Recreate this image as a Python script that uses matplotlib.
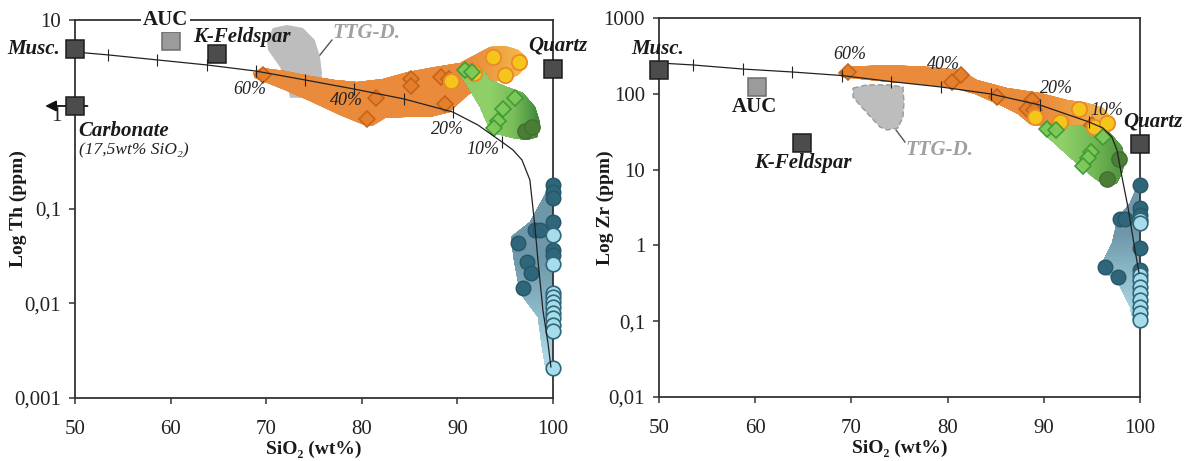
import numpy as np
import matplotlib
matplotlib.use("Agg")
import matplotlib.pyplot as plt
from matplotlib.patches import Polygon
from matplotlib.colors import LinearSegmentedColormap

SERIF = ['Liberation Serif', 'DejaVu Serif']
plt.rcParams['font.family'] = SERIF

# ---------------- data: Th panel (left) ----------------
end_names = ['Musc.', 'AUC', 'K-Feldspar', 'Quartz']
th_end_x = [50, 60.0, 64.9, 100]
th_end_y = [4.9, 6.0, 4.36, 3.03]
carb_x, carb_y = 50, 1.23

th_mix_x = [50.0, 53.45, 58.58, 63.81, 68.93, 74.06, 79.18, 84.41, 89.54, 92.15, 94.67,
            95.82, 96.76, 97.59, 98.12, 98.43, 98.95, 99.48, 99.79]
th_mix_y = [4.58, 4.27, 3.78, 3.34, 2.88, 2.32, 1.86, 1.46, 1.06, 0.774, 0.512,
            0.421, 0.330, 0.203, 0.0646, 0.0289, 0.00853, 0.00382, 0.00213]
th_tick_x = [53.45, 58.58, 63.81, 68.93, 74.06, 79.18, 84.41, 89.54, 94.67]
th_tick_y = [4.27, 3.78, 3.34, 2.88, 2.32, 1.86, 1.46, 1.06, 0.512]
pct_labels = ['60%', '40%', '20%', '10%']
th_pct_x = [68.31, 78.45, 89.02, 92.68]
th_pct_y = [1.82, 1.39, 0.686, 0.421]

th_orange_x = [68.62, 69.56, 71.97, 74.58, 77.20, 79.50, 82.22, 84.83, 87.66, 90.27, 91.84, 93.41,
               94.98, 96.34, 97.18, 97.18, 96.34, 94.98, 93.41, 92.15, 91.11, 90.06, 89.23, 87.13,
               84.52, 82.43, 81.07, 80.02, 77.72, 74.58, 71.97, 69.87, 68.83]
th_orange_y = [2.75, 3.10, 2.88, 2.55, 2.32, 2.21, 2.38, 2.82, 3.18, 3.51, 4.26, 5.18,
               5.31, 4.82, 4.06, 3.26, 2.62, 2.32, 2.21, 1.91, 1.61, 1.29, 1.06, 0.942,
               0.942, 0.919, 0.756, 0.793, 0.989, 1.39, 1.82, 2.21, 2.43]
th_green_x = [90.27, 92.36, 93.41, 95.19, 96.86, 98.12, 98.64, 98.33, 97.28, 95.82, 93.72, 93.10,
              92.36, 91.32, 90.48]
th_green_y = [3.18, 3.18, 2.32, 1.95, 1.69, 1.20, 0.813, 0.578, 0.537, 0.564, 0.637, 0.813,
              1.20, 1.82, 2.49]
th_ttg_x = [70.08, 70.71, 72.18, 73.85, 75.10, 75.63, 75.84, 75.63, 74.06, 72.49, 72.28, 71.44, 70.19]
th_ttg_y = [6.13, 8.23, 8.85, 8.23, 6.13, 4.06, 2.75, 1.82, 1.50, 1.50, 1.95, 3.18, 4.82]
th_blue_x = [100, 97.59, 95.60, 95.90, 96.60, 98.43, 98.85, 99.16, 99.90, 100]
th_blue_y = [0.203, 0.0728, 0.0506, 0.0288, 0.0129, 0.0072, 0.00347, 0.00223, 0.00184, 0.00184]

th_od_x = [69.67, 81.49, 80.54, 85.15, 85.15, 88.28, 89.12, 88.70]   # orange diamonds
th_od_y = [2.62, 1.50, 0.895, 2.38, 2.00, 2.49, 2.38, 1.29]
th_yc_x = [93.72, 96.44, 94.98, 91.74, 89.33]                          # yellow circles
th_yc_y = [4.06, 3.59, 2.62, 2.75, 2.26]
th_gd_x = [90.80, 91.53, 96.03, 94.77, 94.25, 93.83]                   # green diamonds
th_gd_y = [2.96, 2.82, 1.50, 1.14, 0.853, 0.72]
th_dg_x = [97.07, 97.80]                                               # dark green circles
th_dg_y = [0.668, 0.738]
th_db_x = [100, 100, 100, 100, 100, 100, 98.12, 98.64, 96.34, 97.28, 97.70, 96.86]  # dark blue
th_db_y = [0.179, 0.151, 0.131, 0.0728, 0.0368, 0.0326, 0.060, 0.060, 0.0436, 0.0275, 0.021, 0.0146]
th_lb_x = [100] * 11                                                   # light blue
th_lb_y = [0.0531, 0.0262, 0.0129, 0.01172, 0.01037, 0.00918, 0.00793, 0.00703, 0.00592,
           0.00511, 0.00207]

# ---------------- data: Zr panel (right) ----------------
zr_end_x = [50, 60.2, 64.9, 100]
zr_end_y = [206, 123, 22.4, 21.8]
zr_mix_x = [50.0, 53.53, 58.73, 63.83, 69.02, 74.12, 79.31, 84.51, 89.60, 94.70, 96.15,
            97.08, 97.61, 98.13, 98.75, 99.48, 99.90]
zr_mix_y = [255, 240, 212, 194, 174, 145, 123, 99.4, 71.1, 42.5, 35.4,
            26.9, 18.1, 7.98, 3.21, 0.869, 0.433]
zr_tick_x = [53.53, 58.73, 63.83, 69.02, 74.12, 79.31, 84.51, 89.60, 94.70]
zr_tick_y = [240, 212, 194, 174, 145, 123, 99.4, 71.1, 42.5]
zr_pct_x = [69.85, 79.52, 91.37, 96.57]
zr_pct_y = [325, 240, 116, 61.1]

zr_orange_x = [68.61, 69.54, 73.70, 78.17, 81.29, 83.06, 86.17, 89.61, 92.41, 94.49, 96.15, 97.19,
               97.19, 96.15, 94.49, 91.89, 90.12, 88.57, 87.32, 85.45, 82.85, 80.25, 77.13, 74.01,
               70.89, 69.02]
zr_orange_y = [188, 226, 240, 226, 206, 152, 119, 103, 82.8, 75.6, 65.0, 45.1,
               35.4, 31.3, 32.3, 35.4, 37.6, 40.0, 54.2, 71.1, 99.4, 123, 135, 143,
               157, 167]
zr_green_x = [89.81, 91.68, 94.49, 96.88, 98.13, 98.44, 98.13, 97.61, 96.57, 95.11, 93.04, 90.96, 89.92]
zr_green_y = [36.5, 38.7, 37.6, 30.4, 19.9, 13.4, 9.02, 6.65, 5.89, 7.98, 13.4, 23.1, 30.4]
zr_ttg_x = [70.17, 71.62, 74.01, 75.36, 75.47, 75.36, 74.84, 73.70, 72.97, 71.62, 70.69, 70.17]
zr_ttg_y = [119, 131, 131, 123, 75.6, 49.4, 35.4, 33.3, 36.5, 55.8, 75.6, 90.8]
zr_blue_x = [100, 98.96, 97.71, 97.09, 96.05, 95.84, 97.61, 98.96, 99.27, 100]
zr_blue_y = [7.3, 3.62, 2.30, 1.08, 0.586, 0.473, 0.35, 0.154, 0.104, 0.0838]

zr_od_x = [69.65, 80.46, 81.39, 85.13, 88.77, 88.25, 88.98, 95.01]
zr_od_y = [194, 143, 177, 90.8, 82.8, 63.0, 61.1, 38.7]
zr_yc_x = [89.09, 91.68, 93.66, 95.22, 96.57]
zr_yc_y = [49.4, 42.5, 63.0, 36.5, 41.2]
zr_gd_x = [90.33, 91.27, 96.15, 94.91, 94.59, 94.07]
zr_gd_y = [34.4, 33.3, 26.9, 17.1, 14.2, 11.1]
zr_dg_x = [97.82, 96.59]
zr_dg_y = [13.8, 7.5]
zr_db_x = [100, 100, 100, 100, 100, 97.92, 98.44, 96.36, 97.71]
zr_db_y = [6.27, 3.11, 2.52, 0.925, 0.473, 2.23, 2.23, 0.519, 0.383]
zr_lb_x = [100] * 10
zr_lb_y = [2.16, 1.95, 0.406, 0.35, 0.283, 0.235, 0.19, 0.154, 0.128, 0.104]

# ---------------- styles ----------------
C_ORANGE = '#ea8b3c'
C_YORANGE = '#f3b64c'
C_GREEN_L = '#8fcf68'
C_GREEN_D = '#3f8a3c'
C_BLUE_D = '#6e98aa'
C_BLUE_L = '#a9d6e2'
C_GRAY = '#bdbdbd'
TXT = '#1a1a1a'


def grad_patch(ax, xs, ys, colors, t0, t1, along='x', alpha=1.0, z=1):
    poly = Polygon(np.column_stack([xs, ys]), closed=True, fc='none', ec='none', zorder=z)
    ax.add_patch(poly)
    gx = np.linspace(min(xs), max(xs), 150)
    gy = np.geomspace(min(ys), max(ys), 150)
    GX, GY = np.meshgrid(gx, gy)
    if along == 'x':
        v = GX
        a, b = t0, t1
    else:
        v = np.log10(GY)
        a, b = np.log10(t0), np.log10(t1)
    T = np.clip((v - a) / (b - a), 0, 1)
    cmap = LinearSegmentedColormap.from_list('g', colors)
    m = ax.pcolormesh(GX, GY, T, cmap=cmap, vmin=0, vmax=1, shading='gouraud',
                      alpha=alpha, zorder=z)
    m.set_clip_path(poly)


def style_axes(ax, ylim, yticks, ylabels, ylabel, label_x):
    ax.set_yscale('log')
    ax.set_xlim(50, 100)
    ax.set_ylim(*ylim)
    ax.set_xticks([50, 60, 70, 80, 90, 100])
    ax.set_xticklabels(['50', '60', '70', '80', '90', '100'])
    ax.set_yticks(yticks)
    ax.set_yticklabels(ylabels)
    ax.minorticks_off()
    ax.tick_params(axis='both', direction='out', length=4, width=1.1, color='#333333',
                   labelsize=15, labelcolor='#222222', pad=6)
    ax.tick_params(axis='x', pad=12)
    for s in ax.spines.values():
        s.set_color('#333333')
        s.set_linewidth(1.3)
    ax.set_xlabel('SiO\u2082 (wt%)', fontsize=14, fontweight='bold', color=TXT, labelpad=1)
    ax.set_ylabel(ylabel, fontsize=14, fontweight='bold', color=TXT)
    ax.yaxis.set_label_coords(label_x, 0.5)


def draw_points(ax, od, yc, gd, dg, db, lb):
    ax.plot(*od, ls='none', marker='D', ms=8, mfc='#e47f2c', mec='#c4621a', mew=1.2, zorder=5,
            alpha=0.95)
    ax.plot(*yc, ls='none', marker='o', ms=11, mfc='#f6c51c', mec='#ea8a26', mew=1.3, zorder=5)
    ax.plot(*gd, ls='none', marker='D', ms=8, mfc='#7fc95a', mec='#3c9a34', mew=1.2, zorder=5,
            alpha=0.95)
    ax.plot(*dg, ls='none', marker='o', ms=11, mfc='#4b7d36', mec='#3f6f30', mew=1.0, zorder=5)
    ax.plot(*db, ls='none', marker='o', ms=10.5, mfc='#2f6679', mec='#265669', mew=1.0, zorder=5,
            clip_on=False)
    ax.plot(*lb, ls='none', marker='o', ms=10.5, mfc='#a7dcea', mec='#2f6679', mew=1.2, zorder=5,
            clip_on=False)


fig = plt.figure(figsize=(11.84, 4.61), dpi=100)
axL = fig.add_axes([0.0633, 0.1367, 0.4037, 0.8200])
axR = fig.add_axes([0.5566, 0.1388, 0.4062, 0.8222])

# ---------------- left panel ----------------
style_axes(axL, (0.001, 10), [0.001, 0.01, 0.1, 1, 10],
           ['0,001', '0,01', '0,1', '1', '10'], 'Log Th (ppm)', -0.100)
axL.fill(th_ttg_x, th_ttg_y, color=C_GRAY, lw=0, zorder=1)
grad_patch(axL, th_orange_x, th_orange_y, [C_ORANGE, C_YORANGE], 91.5, 96.5, alpha=0.92, z=2)
grad_patch(axL, th_green_x, th_green_y, [C_GREEN_L, '#78bd58', C_GREEN_D], 93.5, 98.5, alpha=0.88, z=3)
grad_patch(axL, th_blue_x, th_blue_y, [C_BLUE_D, C_BLUE_L], 0.03, 0.003, along='y', alpha=0.9, z=2)
draw_points(axL, (th_od_x, th_od_y), (th_yc_x, th_yc_y), (th_gd_x, th_gd_y),
            (th_dg_x, th_dg_y), (th_db_x, th_db_y), (th_lb_x, th_lb_y))
axL.plot(th_mix_x, th_mix_y, color='#222222', lw=0.9, zorder=6, clip_on=False)
axL.plot(th_tick_x, th_tick_y, ls='none', marker='|', ms=9, mew=0.8, color='#222222', zorder=6)
for lab, x, y in zip(pct_labels, th_pct_x, th_pct_y):
    axL.text(x, y, lab, fontsize=13, style='italic', color='#222222', ha='center', va='center',
             zorder=7)
# carbonate arrow
axL.annotate('', xy=(46.6, carb_y), xytext=(51.6, carb_y), xycoords='data',
             arrowprops=dict(arrowstyle='-|>', color='#111111', lw=1.3, mutation_scale=16),
             annotation_clip=False, zorder=7)
# end members
end_fc = ['#4c4c4c', '#9b9b9b', '#4c4c4c', '#4c4c4c']
end_ec = ['#1c1c1c', '#6d6d6d', '#1c1c1c', '#1c1c1c']
for x, y, fc, ec in zip(th_end_x, th_end_y, end_fc, end_ec):
    axL.plot(x, y, marker='s', ms=13, mfc=fc, mec=ec, mew=1.1, clip_on=False, zorder=8)
axL.plot(carb_x, carb_y, marker='s', ms=13, mfc='#4c4c4c', mec='#1c1c1c', mew=1.1,
         clip_on=False, zorder=8)
bi = dict(fontweight='bold', style='italic', color=TXT, zorder=9)
axL.text(48.4, 4.93, 'Musc.', fontsize=15, ha='right', va='center', **bi)
axL.text(59.5, 10, 'AUC', fontsize=15, ha='center', va='center', fontweight='bold', color=TXT,
         bbox=dict(fc='white', ec='none', pad=1.5), zorder=9)
axL.text(62.4, 6.6, 'K-Feldspar', fontsize=15, ha='left', va='center', **bi)
axL.text(100.5, 5.43, 'Quartz', fontsize=15, ha='center', va='center', **bi)
axL.text(50.4, 0.668, 'Carbonate', fontsize=15, ha='left', va='center', **bi)
axL.text(50.4, 0.421, '(17,5wt% SiO\u2082)', fontsize=12.5, ha='left', va='center',
         style='italic', color='#222222', family=SERIF)
axL.text(76.9, 7.28, 'TTG-D.', fontsize=15, ha='left', va='center', fontweight='bold',
         style='italic', color='#a0a0a0')
axL.plot([76.88, 75.63], [6.13, 4.26], color='#555555', lw=1.0, zorder=2)

# ---------------- right panel ----------------
style_axes(axR, (0.01, 1000), [0.01, 0.1, 1, 10, 100, 1000],
           ['0,01', '0,1', '1', '10', '100', '1000'], 'Log Zr (ppm)', -0.094)
axR.fill(zr_ttg_x, zr_ttg_y, facecolor=C_GRAY, edgecolor='#9a9a9a', lw=1.0, ls=(0, (4, 2)), zorder=1)
grad_patch(axR, zr_orange_x, zr_orange_y, [C_ORANGE, C_YORANGE], 90, 96.5, alpha=0.92, z=2)
grad_patch(axR, zr_green_x, zr_green_y, [C_GREEN_L, '#74b955', '#4f9440'], 92, 98.3, alpha=0.88, z=3)
grad_patch(axR, zr_blue_x, zr_blue_y, [C_BLUE_D, C_BLUE_L], 1.5, 0.15, along='y', alpha=0.9, z=2)
draw_points(axR, (zr_od_x, zr_od_y), (zr_yc_x, zr_yc_y), (zr_gd_x, zr_gd_y),
            (zr_dg_x, zr_dg_y), (zr_db_x, zr_db_y), (zr_lb_x, zr_lb_y))
axR.plot(zr_mix_x, zr_mix_y, color='#222222', lw=0.9, zorder=6, clip_on=False)
axR.plot(zr_tick_x, zr_tick_y, ls='none', marker='|', ms=9, mew=0.8, color='#222222', zorder=6)
for lab, x, y in zip(pct_labels, zr_pct_x, zr_pct_y):
    axR.text(x, y, lab, fontsize=13, style='italic', color='#222222', ha='center', va='center',
             zorder=7)
for x, y, fc, ec in zip(zr_end_x, zr_end_y, end_fc, end_ec):
    axR.plot(x, y, marker='s', ms=13, mfc=fc, mec=ec, mew=1.1, clip_on=False, zorder=8)
axR.text(49.9, 390, 'Musc.', fontsize=15, ha='center', va='center', **bi)
axR.text(59.9, 67, 'AUC', fontsize=15, ha='center', va='center', fontweight='bold', color=TXT)
axR.text(65.0, 12.2, 'K-Feldspar', fontsize=15, ha='center', va='center', **bi)
axR.text(101.35, 42.5, 'Quartz', fontsize=15, ha='center', va='center', **bi)
axR.text(79.2, 18.2, 'TTG-D.', fontsize=15, ha='center', va='center', fontweight='bold',
         style='italic', color='#a0a0a0')
axR.plot([74.64, 75.57], [33.3, 23.1], color='#555555', lw=1.0, zorder=2)

fig.savefig('out.png', dpi=100)
